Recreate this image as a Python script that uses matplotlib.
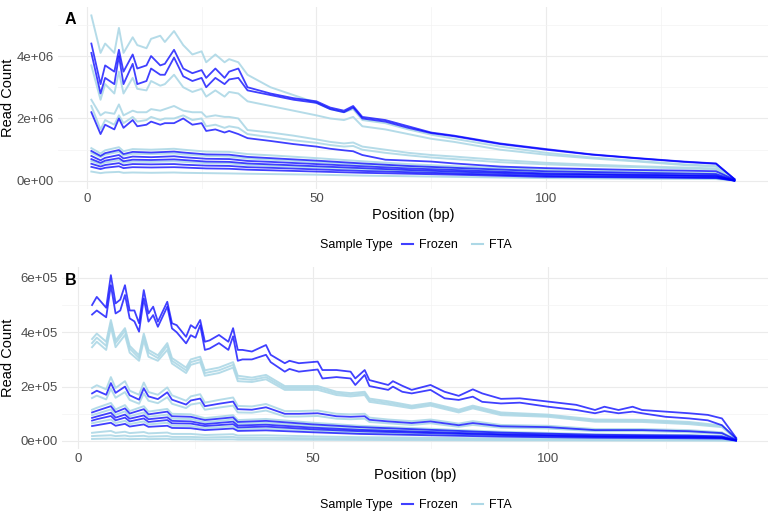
import matplotlib
matplotlib.use("Agg")
import matplotlib.pyplot as plt
from matplotlib.lines import Line2D

# ---- panel A (read counts in units of 1e5) ----
posA = [1, 3, 4, 6, 7, 8, 10, 11, 13, 14, 16, 17, 19, 21, 23, 25, 26, 28, 30, 31,
        33, 35, 40, 45, 50, 53, 56, 58, 60, 65, 70, 75, 80, 90, 100, 110, 120, 130, 137, 141]
a_frozen1 = [44, 31, 37, 35, 42, 35, 40.5, 36, 37, 40, 37, 37.5, 42, 36, 34.5, 35.5, 33, 36, 33, 35,
             36, 30, 28, 26.5, 25.5, 23.5, 22.5, 24, 20.5, 19.5, 17.5, 15.5, 14.5, 12, 10.2, 8.5, 7.3, 6.2, 5.6, 0.6]
a_frozen2 = [41, 28, 33, 31, 40, 31, 37.5, 31, 32, 36, 34, 34, 39.5, 33.5, 32, 33, 30, 33, 31, 32.5,
             33, 29, 27.5, 26, 25, 23, 22, 23.5, 20, 19, 17, 15.3, 14.3, 11.8, 10, 8.4, 7.2, 6.1, 5.5, 0.6]
a_fta1 = [53, 41, 44, 41, 49, 41, 46, 43.5, 42.5, 45.5, 46.5, 44.5, 48, 43.5, 40.5, 41.5, 38, 40.5, 38, 39,
          38, 34, 30, 27.5, 25, 23, 22, 23, 19.5, 18.5, 16.5, 14.8, 13.5, 11, 9, 7.5, 6.4, 5.3, 4.8, 0.5]
a_fta2 = [37, 26, 31, 28, 35, 28, 33, 29.5, 29, 32, 30.5, 31, 34, 30, 28.5, 29.5, 27, 29, 27, 28.5,
          28, 25.5, 24, 22.5, 21, 20, 19.5, 20.5, 17.5, 16.5, 15, 13.5, 12.5, 10, 8.4, 7.2, 6.2, 5.1, 4.6, 0.5]
a_frozen3 = [22, 15, 18, 16.5, 20, 17, 19.5, 17.5, 18, 19, 18, 18.5, 18.5, 20, 18, 18.5, 16, 16.5, 15.5, 16,
             15, 13.7, 12.8, 11.8, 11, 10.3, 9.8, 9.5, 8.3, 6.8, 6.5, 6.2, 5.6, 4.6, 4.1, 3.8, 3.5, 3.3, 3.1, 0.4]
a_fta3 = [26, 21, 22, 21.5, 24.5, 21, 22.5, 22, 22, 23, 22.5, 23, 24, 22.5, 22, 22, 20.5, 21, 20.5, 20.5,
          20, 16.3, 15.5, 14.5, 13.3, 12.5, 12, 12.3, 11, 10, 9, 8.3, 7.8, 6.7, 5.8, 5.2, 4.7, 4.3, 4.0, 0.4]
a_fta4 = [24, 16.5, 19.5, 18, 21, 18.5, 20.5, 19, 19.5, 20.5, 19.5, 20, 20, 21, 19.5, 20, 17.5, 18, 17, 17.5,
          17, 15, 14, 13, 12.2, 11.5, 11, 11.2, 10, 9, 8.2, 7.5, 7, 6, 5.3, 4.8, 4.4, 4, 3.7, 0.4]

posA_low = [1, 3, 4, 7, 8, 10, 14, 19, 21, 26, 31, 35, 40, 50, 60, 70, 80, 100, 120, 137, 141]
a_low_fta1 = [10.5, 8.8, 9.8, 10.8, 9.5, 10.2, 10.0, 10.3, 10.0, 9.4, 9.3, 8.6, 8.2, 7.3, 6.3, 5.4, 4.7, 3.6, 3.0, 2.5, 0.2]
a_low_frozen1 = [9.6, 8.0, 8.9, 9.9, 8.6, 9.3, 9.1, 9.4, 9.1, 8.5, 8.4, 7.7, 7.3, 6.5, 5.6, 4.8, 4.2, 3.1, 2.6, 2.2, 0.2]
a_low_fta2 = [9.0, 7.6, 8.4, 9.3, 8.1, 8.7, 8.6, 8.8, 8.5, 8.0, 7.8, 7.2, 6.8, 6.0, 5.2, 4.5, 3.9, 2.8, 2.4, 2.0, 0.2]
a_low_frozen2 = [8.0, 6.6, 7.4, 8.3, 7.2, 7.8, 7.6, 7.9, 7.6, 7.1, 7.0, 6.4, 6.1, 5.4, 4.7, 4.0, 3.5, 2.4, 2.0, 1.7, 0.1]
a_low_frozen3 = [7.0, 5.8, 6.5, 7.3, 6.3, 6.8, 6.7, 6.9, 6.7, 6.2, 6.1, 5.6, 5.3, 4.7, 4.1, 3.5, 3.0, 2.1, 1.8, 1.5, 0.1]
a_low_fta3 = [6.4, 5.3, 5.9, 6.6, 5.8, 6.2, 6.1, 6.3, 6.1, 5.7, 5.6, 5.1, 4.8, 4.3, 3.7, 3.2, 2.8, 1.9, 1.6, 1.3, 0.1]
a_low_frozen4 = [5.5, 4.6, 5.1, 5.7, 5.0, 5.4, 5.3, 5.4, 5.2, 4.9, 4.8, 4.4, 4.2, 3.7, 3.2, 2.8, 2.4, 1.6, 1.3, 1.1, 0.1]
a_low_frozen5 = [4.5, 3.8, 4.2, 4.7, 4.1, 4.4, 4.3, 4.4, 4.3, 4.0, 3.9, 3.6, 3.4, 3.0, 2.6, 2.3, 2.0, 1.3, 1.1, 0.9, 0.1]
a_low_fta4 = [3.0, 2.5, 2.7, 2.9, 2.6, 2.7, 2.6, 2.7, 2.6, 2.5, 2.4, 2.3, 2.2, 2.0, 1.7, 1.5, 1.3, 0.9, 0.7, 0.6, 0.1]

# ---- panel B (read counts in units of 1e4) ----
posB = [3, 4, 6, 7, 8, 9, 10, 11, 12, 13, 14, 15, 16, 17, 19, 20, 21, 23, 24, 25,
        26, 27, 28, 30, 32, 33, 34, 35, 37, 40, 41, 44, 45, 47, 51, 52, 55, 58, 59, 61,
        62, 66, 67, 69, 71, 75, 78, 81, 84, 86, 90, 94, 100, 106, 110, 112, 115, 118, 120, 125,
        130, 134, 137, 140]
b_frozen1 = [50, 53, 49, 61, 50.6, 52, 57.3, 48, 48, 43.3, 55.5, 46.9, 49.4, 43.9, 51.2, 43.3, 42.6, 38.3, 42.6, 41.4,
             44.5, 36.5, 37, 39, 36.5, 41.5, 33.5, 33.5, 32.9, 35.3, 31.7, 28.6, 29.5, 28.6, 29.2, 26.1, 26.1, 25.5, 23, 26.1,
             22.4, 20.6, 22, 20.3, 18.8, 20.6, 18.1, 16.6, 19, 17.5, 15.5, 15.7, 14.5, 13.3, 11.4, 12.6, 11.4, 12.6, 11.4, 10.8,
             10.2, 9.6, 8.3, 1.2]
b_frozen2 = [46.5, 48, 45.5, 57.3, 46.9, 48, 53.7, 45.1, 44, 40.2, 52.4, 43.9, 46.3, 42, 49.4, 41.4, 40, 35.9, 38.9, 38,
             42.6, 33.5, 34, 36, 33.5, 38.5, 29.5, 30, 30, 31.7, 29, 25.5, 26.5, 25.5, 26.3, 23, 23.5, 23, 20.6, 24.3,
             20.2, 18.8, 20, 18.1, 17.5, 18.8, 15.7, 15.1, 16.3, 14.4, 13.8, 14.1, 12.6, 11.4, 10.2, 11, 10.2, 10.8, 10.2, 8.9,
             8.3, 7.6, 5.8, 0.9]

posB2 = [3, 4, 6, 7, 8, 10, 11, 13, 14, 15, 17, 19, 20, 23, 24, 26, 27, 30, 33, 34,
         37, 40, 44, 47, 51, 55, 58, 61, 62, 66, 71, 75, 81, 84, 90, 100, 110, 120, 130, 137, 140]
b_fta1 = [37.5, 39.5, 36.5, 44.5, 37, 41.5, 35, 31.5, 39.5, 33.5, 31.5, 36, 30.5, 27, 30, 31, 26, 27, 29, 24,
          23.3, 24.3, 20.2, 20.2, 20.2, 18.1, 17.6, 18.1, 15.6, 14.6, 13, 14, 11.5, 13, 10.5, 9.7, 7.9, 7.8, 7, 5.7, 0.8]
b_fta2 = [36, 38, 35, 43.5, 36, 40.5, 34, 30.5, 38.5, 32.5, 30.5, 35, 29.5, 26, 29, 30, 25, 26, 28, 23,
          22.5, 23.5, 19.5, 19.5, 19.5, 17.5, 17, 17.5, 15, 14, 12.5, 13.5, 11, 12.5, 10, 9.3, 7.5, 7.4, 6.6, 5.4, 0.8]
b_fta3 = [34.5, 36.5, 33.5, 42, 34.5, 39, 32.5, 29.5, 37, 31, 29.5, 33.5, 28.5, 25, 28, 29, 24, 25, 27, 22,
          21.7, 22.7, 18.8, 18.8, 18.8, 16.9, 16.4, 16.9, 14.4, 13.4, 12, 13, 10.5, 12, 9.5, 8.9, 7.1, 7, 6.2, 5.1, 0.7]
b_frozen3 = [17.5, 18.5, 17, 21.3, 17.7, 20, 16.8, 15.2, 19.4, 16.4, 15.4, 17.9, 15.2, 13.4, 14.9, 15.6, 12.8, 13.7, 14.5, 11.7,
             11.5, 12.4, 10, 10, 10.2, 9.1, 8.9, 9.1, 7.8, 7.2, 6.6, 7.2, 5.8, 6.6, 5.4, 5.1, 4, 4, 3.6, 2.9, 0.4]
b_fta4 = [19.5, 20.5, 19, 23.5, 19.5, 22, 18.5, 17, 21.5, 18, 17, 19.7, 16.8, 14.8, 16.4, 17.2, 14.1, 15.1, 16, 12.9,
          12.7, 13.6, 11, 11, 11.2, 10, 9.8, 10, 8.6, 7.9, 7.3, 7.9, 6.4, 7.3, 5.9, 5.6, 4.4, 4.4, 4, 3.2, 0.4]
b_fta5 = [15.8, 16.7, 15.3, 19.2, 15.9, 18, 15.1, 13.7, 17.5, 14.8, 13.9, 16.1, 13.7, 12.1, 13.4, 14, 11.5, 12.3, 13, 10.5,
          10.4, 11.2, 9, 9, 9.2, 8.2, 8, 8.2, 7, 6.5, 5.9, 6.5, 5.2, 5.9, 4.9, 4.6, 3.6, 3.6, 3.2, 2.6, 0.3]

posB3 = [3, 4, 7, 8, 10, 11, 14, 15, 19, 20, 24, 27, 33, 34, 40, 50, 60, 75, 90, 110, 130, 137, 140]
b_low_fta1 = [11.5, 12.2, 14, 11.6, 13.2, 11, 12.8, 10.8, 11.8, 10, 9.8, 8.4, 9.5, 7.7, 8.1, 6.7, 5.6, 4.5, 3.4, 2.5, 2.2, 1.8, 0.3]
b_low_frozen1 = [10.5, 11.1, 12.8, 10.6, 12, 10.1, 11.7, 9.8, 10.8, 9.1, 8.9, 7.7, 8.7, 7, 7.4, 6.1, 5.1, 4.1, 3.1, 2.3, 2, 1.7, 0.3]
b_low_fta2 = [9.5, 10, 11.6, 9.6, 10.9, 9.1, 10.5, 8.9, 9.7, 8.2, 8.1, 6.9, 7.9, 6.4, 6.7, 5.5, 4.6, 3.7, 2.8, 2.1, 1.9, 1.5, 0.2]
b_low_frozen2 = [8.5, 9, 10.4, 8.6, 9.7, 8.2, 9.4, 8, 8.7, 7.4, 7.2, 6.2, 7.1, 5.7, 6, 4.9, 4.1, 3.3, 2.5, 1.8, 1.6, 1.3, 0.2]
b_low_frozen3 = [7.5, 8, 9.2, 7.6, 8.6, 7.2, 8.3, 7, 7.7, 6.5, 6.4, 5.5, 6.2, 5, 5.3, 4.3, 3.6, 2.9, 2.2, 1.6, 1.4, 1.2, 0.2]
b_low_fta3 = [6.5, 6.9, 7.9, 6.6, 7.4, 6.2, 7.2, 6.1, 6.7, 5.6, 5.5, 4.7, 5.4, 4.4, 4.6, 3.8, 3.1, 2.5, 1.9, 1.4, 1.2, 1, 0.2]
b_low_frozen4 = [5.5, 5.8, 6.7, 5.6, 6.3, 5.3, 6.1, 5.2, 5.6, 4.8, 4.7, 4, 4.6, 3.7, 3.9, 3.2, 2.6, 2.1, 1.6, 1.2, 1, 0.9, 0.1]
b_low_fta4 = [3, 3.2, 3.7, 3, 3.4, 2.9, 3.3, 2.8, 3.1, 2.6, 2.6, 2.2, 2.5, 2, 2.1, 1.7, 1.4, 1.2, 0.9, 0.7, 0.6, 0.5, 0.1]
b_low_fta5 = [1.8, 1.9, 2.1, 1.8, 2, 1.7, 1.9, 1.6, 1.8, 1.5, 1.5, 1.3, 1.5, 1.2, 1.2, 1, 0.9, 0.7, 0.5, 0.4, 0.4, 0.3, 0.1]
b_low_fta6 = [0.75, 0.8, 0.9, 0.8, 0.85, 0.7, 0.8, 0.7, 0.8, 0.65, 0.65, 0.55, 0.6, 0.5, 0.5, 0.45, 0.4, 0.3, 0.25, 0.2, 0.15, 0.12, 0.05]

FROZEN = "#0000FF"
FTA = "#ADD8E6"

panelA = [
    (posA, a_fta1, "FTA"), (posA, a_fta2, "FTA"), (posA, a_fta3, "FTA"), (posA, a_fta4, "FTA"),
    (posA_low, a_low_fta1, "FTA"), (posA_low, a_low_fta2, "FTA"), (posA_low, a_low_fta3, "FTA"),
    (posA_low, a_low_fta4, "FTA"),
    (posA, a_frozen1, "Frozen"), (posA, a_frozen2, "Frozen"), (posA, a_frozen3, "Frozen"),
    (posA_low, a_low_frozen1, "Frozen"), (posA_low, a_low_frozen2, "Frozen"),
    (posA_low, a_low_frozen3, "Frozen"), (posA_low, a_low_frozen4, "Frozen"),
    (posA_low, a_low_frozen5, "Frozen"),
]
panelB = [
    (posB, b_frozen1, "Frozen"), (posB, b_frozen2, "Frozen"),
    (posB2, b_fta1, "FTA"), (posB2, b_fta2, "FTA"), (posB2, b_fta3, "FTA"),
    (posB2, b_fta4, "FTA"), (posB2, b_fta5, "FTA"), (posB2, b_frozen3, "Frozen"),
    (posB3, b_low_frozen1, "Frozen"), (posB3, b_low_frozen2, "Frozen"),
    (posB3, b_low_frozen3, "Frozen"), (posB3, b_low_frozen4, "Frozen"),
    (posB3, b_low_fta1, "FTA"), (posB3, b_low_fta2, "FTA"), (posB3, b_low_fta3, "FTA"),
    (posB3, b_low_fta4, "FTA"), (posB3, b_low_fta5, "FTA"), (posB3, b_low_fta6, "FTA"),
]

plt.rcParams['font.family'] = ['Liberation Sans', 'DejaVu Sans']
fig = plt.figure(figsize=(7.71, 5.19), dpi=100)


def style(ax, xlim, ylim, yticks, ylabels, xminor, yminor, ylab_x):
    ax.set_xlim(*xlim)
    ax.set_ylim(*ylim)
    for s in ax.spines.values():
        s.set_visible(False)
    ax.set_xticks([0, 50, 100])
    ax.set_xticks(xminor, minor=True)
    ax.set_yticks(yticks)
    ax.set_yticklabels(ylabels)
    ax.set_yticks(yminor, minor=True)
    ax.grid(True, which='major', color='#EBEBEB', lw=0.8)
    ax.grid(True, which='minor', color='#F3F3F3', lw=0.5)
    ax.set_axisbelow(True)
    ax.tick_params(which='both', length=0, labelsize=9.5, colors='#4D4D4D', pad=3)
    ax.set_xlabel('Position (bp)', fontsize=10.5, labelpad=2)
    ax.set_ylabel('Read Count', fontsize=10.5)
    ax.yaxis.set_label_coords(ylab_x, 0.5)


def draw(ax, lines, unit):
    for xs, ys, kind in lines:
        if kind == "FTA":
            ax.plot(xs, [v * unit for v in ys], color=FTA, lw=1.4, alpha=0.9, zorder=2)
        else:
            ax.plot(xs, [v * unit for v in ys], color=FROZEN, lw=1.3, alpha=0.75, zorder=3)


axA = fig.add_axes([0.075, 0.636, 0.921, 0.3505])
draw(axA, panelA, 1e5)
style(axA, (-6.3, 148.3), (-0.256e6, 5.57e6), [0, 2e6, 4e6],
      ['0e+00', '2e+06', '4e+06'], [25, 75, 125], [1e6, 3e6, 5e6], -0.06)
axA.text(0.01, 0.97, 'A', transform=axA.transAxes, fontsize=11.5, fontweight='bold', va='top')

axB = fig.add_axes([0.0804, 0.1349, 0.9157, 0.3507])
draw(axB, panelB, 1e4)
style(axB, (-3.4, 146.8), (-0.294e5, 6.4e5), [0, 2e5, 4e5, 6e5],
      ['0e+00', '2e+05', '4e+05', '6e+05'], [25, 75, 125], [1e5, 3e5, 5e5], -0.066)
axB.text(0.004, 0.965, 'B', transform=axB.transAxes, fontsize=11.5, fontweight='bold', va='top')

handles = [Line2D([], [], color=FROZEN, lw=1.5, alpha=0.75),
           Line2D([], [], color=FTA, lw=1.5)]
for ytext in (0.528, 0.027):
    fig.text(0.415, ytext, 'Sample Type', fontsize=9, va='center', ha='left')
    fig.legend(handles, ['Frozen', 'FTA'], loc='center left', bbox_to_anchor=(0.521, ytext),
               ncol=2, frameon=False, fontsize=9, handlelength=0.9, handletextpad=0.5,
               columnspacing=1.1, borderaxespad=0, borderpad=0)

fig.savefig('out.png', dpi=100)
